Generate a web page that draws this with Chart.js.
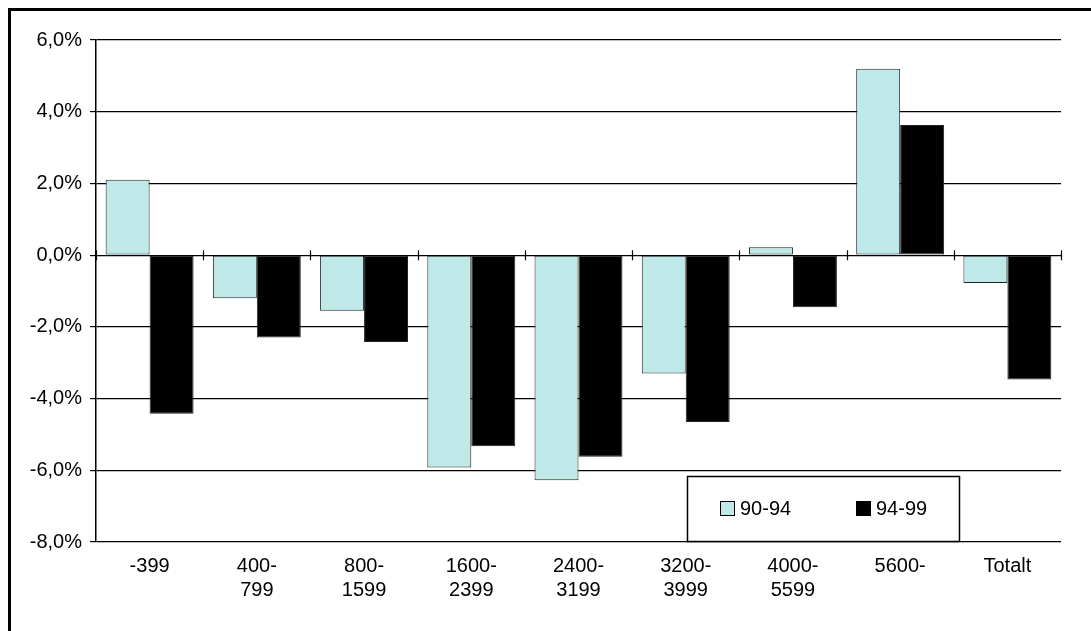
<!DOCTYPE html>
<html>
<head>
<meta charset="utf-8">
<script src="https://cdn.jsdelivr.net/npm/chart.js@4"></script>
<style>
  html, body { margin: 0; padding: 0; background: #fff; }
  #wrap { width: 1091px; height: 631px; position: relative; }
</style>
</head>
<body>
<div id="wrap"><canvas id="chart" width="1091" height="631"></canvas></div>
<script>
// Categories (income groups) and the two period series
const categories = [['-399'], ['400-', '799'], ['800-', '1599'], ['1600-', '2399'], ['2400-', '3199'], ['3200-', '3999'], ['4000-', '5599'], ['5600-'], ['Totalt']];
const seriesNames = ['90-94', '94-99'];
const values9094 = [2.1, -1.2, -1.55, -5.92, -6.28, -3.3, 0.22, 5.2, -0.78];
const values9499 = [-4.42, -2.3, -2.42, -5.33, -5.62, -4.65, -1.45, 3.63, -3.47];
const yTicks = [-8, -6, -4, -2, 0, 2, 4, 6];

const FONT = '"Liberation Sans", Arial, sans-serif';

// frame around the picture (only top/left edges are visible in the crop)
const framePlugin = {
    id: 'frame',
    beforeDraw(chart) {
        const ctx = chart.ctx;
        ctx.save();
        ctx.fillStyle = '#fff';
        ctx.fillRect(0, 0, chart.width, chart.height);
        ctx.fillStyle = '#000';
        ctx.fillRect(8, 8, chart.width - 8, 3);
        ctx.fillRect(8, 8, 3, chart.height - 8);
        ctx.restore();
    },
    afterDatasetsDraw(chart) {
        // small ticks crossing the zero line at category boundaries
        const ctx = chart.ctx;
        const x = chart.scales.x;
        const y0 = chart.scales.y.getPixelForValue(0);
        ctx.save();
        ctx.strokeStyle = '#000';
        ctx.lineWidth = 1.2;
        ctx.beginPath();
        for (let i = 0; i <= categories.length; i++) {
            const px = Math.round(x.left + (x.right - x.left) * i / categories.length) + 0.5;
            ctx.moveTo(px, y0 - 5);
            ctx.lineTo(px, y0 + 5);
        }
        ctx.stroke();
        ctx.restore();
    },
    afterDraw(chart) {
        // legend box inside the plot area
        const ctx = chart.ctx;
        const ds = chart.data.datasets;
        const bx = 687, by = 476, bw = 272, bh = 65;
        ctx.save();
        ctx.fillStyle = '#fff';
        ctx.fillRect(bx, by, bw, bh);
        ctx.strokeStyle = '#000';
        ctx.lineWidth = 1.5;
        ctx.strokeRect(bx + 0.5, by + 0.5, bw, bh);
        ctx.font = '20px ' + FONT;
        ctx.textBaseline = 'middle';
        const items = [{ x: 720 }, { x: 856 }];
        items.forEach((it, i) => {
            ctx.fillStyle = ds[i].backgroundColor;
            ctx.fillRect(it.x, 501, 14, 14);
            ctx.strokeStyle = '#000';
            ctx.lineWidth = 1;
            ctx.strokeRect(it.x + 0.5, 501.5, 14, 14);
            ctx.fillStyle = '#000';
            ctx.fillText(ds[i].label, it.x + 20, 509);
        });
        ctx.restore();
    }
};

new Chart(document.getElementById('chart'), {
    type: 'bar',
    data: {
        labels: categories,
        datasets: [{
            label: seriesNames[0],
            data: values9094,
            backgroundColor: '#BFE9E8',
            borderColor: '#222',
            borderWidth: 1,
            borderSkipped: false
        }, {
            label: seriesNames[1],
            data: values9499,
            backgroundColor: '#000',
            borderColor: '#222',
            borderWidth: 1,
            borderSkipped: false
        }]
    },
    options: {
        responsive: false,
        animation: false,
        layout: { padding: { left: 0, top: 40, right: 30, bottom: 0 } },
        datasets: { bar: { categoryPercentage: 0.82, barPercentage: 1.0 } },
        scales: {
            x: {
                grid: { display: false, drawTicks: false },
                border: { display: false },
                ticks: {
                    color: '#000',
                    font: { family: FONT, size: 20, lineHeight: 1.2 },
                    padding: 12,
                    maxRotation: 0,
                    autoSkip: false
                },
                afterFit(scale) { scale.height = 89; }
            },
            y: {
                min: -8,
                max: 6,
                afterBuildTicks(scale) { scale.ticks = yTicks.map(v => ({ value: v })); },
                grid: { color: '#000', lineWidth: 1.2, tickLength: 6, drawTicks: true },
                border: { display: true, color: '#000', width: 1.5 },
                ticks: {
                    color: '#000',
                    font: { family: FONT, size: 20 },
                    padding: 8,
                    callback: v => v.toFixed(1).replace('.', ',') + '%'
                },
                afterFit(scale) { scale.width = 96; }
            }
        },
        plugins: {
            legend: { display: false },
            tooltip: { enabled: false }
        }
    },
    plugins: [framePlugin]
});
</script>
</body>
</html>
